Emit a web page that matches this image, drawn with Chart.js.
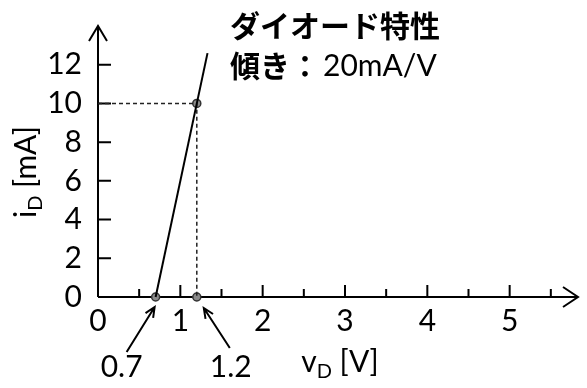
<!DOCTYPE html>
<html>
<head>
<meta charset="utf-8">
<script src="https://cdn.jsdelivr.net/npm/chart.js@4.4.0/dist/chart.umd.min.js"></script>
<style>
  html, body { margin: 0; padding: 0; background: #fff; }
  canvas { display: block; }
</style>
</head>
<body>
<canvas id="chart" width="587" height="388"></canvas>
<script>
// data
const xTicks = [0, 1, 2, 3, 4, 5];
const yTicks = [0, 2, 4, 6, 8, 10, 12];
const xMinor = [0.5, 1.5, 2.5, 3.5, 4.5, 5.5];
const diodeV = [0.7, 1.33];
const diodeI = [0, 12.6];
const guideV = [0, 1.2, 1.2];
const guideI = [10, 10, 0];
const pointV = [0.7, 1.2, 1.2];
const pointI = [0, 0, 10];
const calloutV = [0.7, 1.2];
const titleLine1 = 'ダイオード特性';
const titleLine2a = '傾き：';
const titleLine2b = '20mA/V';
const xMax = 5.83, yMax = 14;

const LATIN = 'Lato, "Noto Sans", sans-serif';
const CJK = '"Noto Sans CJK JP", sans-serif';

const toXY = (xs, ys) => xs.map((v, i) => ({ x: v, y: ys[i] }));

// draws text made of pieces (e.g. a subscript), centred on (cx, cy)
function drawPieces(ctx, pieces, cx, cy) {
  let total = 0;
  pieces.forEach(p => { ctx.font = p.font; p.w = ctx.measureText(p.t).width; total += p.w; });
  let xx = cx - total / 2;
  ctx.textBaseline = 'alphabetic';
  ctx.textAlign = 'left';
  pieces.forEach(p => { ctx.font = p.font; ctx.fillText(p.t, xx, cy + (p.dy || 0)); xx += p.w; });
}

function arrow(ctx, x1, y1, x2, y2) {
  const a = Math.atan2(y2 - y1, x2 - x1), L = 11, s = 0.42;
  ctx.beginPath();
  ctx.moveTo(x1, y1); ctx.lineTo(x2, y2);
  ctx.moveTo(x2 - L * Math.cos(a - s), y2 - L * Math.sin(a - s));
  ctx.lineTo(x2, y2);
  ctx.lineTo(x2 - L * Math.cos(a + s), y2 - L * Math.sin(a + s));
  ctx.stroke();
}

const axesPlugin = {
  id: 'axes',
  beforeDatasetsDraw(chart) {
    const { ctx, scales: { x, y } } = chart;
    const x0 = x.getPixelForValue(0), y0 = y.getPixelForValue(0);
    const xEnd = x.getPixelForValue(xMax), yEnd = y.getPixelForValue(yMax);
    ctx.save();
    ctx.strokeStyle = '#000';
    ctx.lineWidth = 2;
    ctx.beginPath();
    ctx.moveTo(x0, y0); ctx.lineTo(xEnd, y0);
    ctx.moveTo(x0, y0); ctx.lineTo(x0, yEnd);
    ctx.moveTo(xEnd - 15, y0 - 10); ctx.lineTo(xEnd, y0); ctx.lineTo(xEnd - 15, y0 + 10);
    ctx.moveTo(x0 - 9, yEnd + 15); ctx.lineTo(x0, yEnd); ctx.lineTo(x0 + 9, yEnd + 15);
    yTicks.slice(1).forEach(v => { const p = y.getPixelForValue(v); ctx.moveTo(x0, p); ctx.lineTo(x0 + 13, p); });
    xTicks.slice(1).forEach(v => { const p = x.getPixelForValue(v); ctx.moveTo(p, y0); ctx.lineTo(p, y0 - 12); });
    xMinor.forEach(v => { const p = x.getPixelForValue(v); ctx.moveTo(p, y0); ctx.lineTo(p, y0 - 8); });
    ctx.stroke();
    ctx.restore();
  },
  afterDraw(chart) {
    const { ctx, scales: { x, y } } = chart;
    const y0 = y.getPixelForValue(0);
    ctx.save();
    ctx.fillStyle = '#000';
    ctx.strokeStyle = '#000';

    // annotation text
    ctx.textBaseline = 'middle';
    ctx.textAlign = 'left';
    ctx.font = 'bold 30px ' + CJK;
    ctx.fillText(titleLine1, 230, 26);
    ctx.fillText(titleLine2a, 230, 66);
    ctx.font = '30px ' + LATIN;
    ctx.fillText(titleLine2b, 323, 66);

    // axis titles
    drawPieces(ctx, [
      { t: 'v', font: '30px ' + LATIN },
      { t: 'D', font: '20px ' + LATIN, dy: 6 },
      { t: ' [V]', font: '30px ' + LATIN }
    ], 340, 372);
    ctx.save();
    ctx.translate(36, 172);
    ctx.rotate(-Math.PI / 2);
    drawPieces(ctx, [
      { t: 'i', font: '30px ' + LATIN },
      { t: 'D', font: '20px ' + LATIN, dy: 6 },
      { t: ' [mA]', font: '30px ' + LATIN }
    ], 0, 0);
    ctx.restore();

    // callouts for 0.7 and 1.2
    ctx.lineWidth = 2;
    const side = [-1, 1];
    calloutV.forEach((v, i) => {
      const px = x.getPixelForValue(v);
      const s = side[i];
      if (s < 0) arrow(ctx, px - 29, y0 + 55, px - 1, y0 + 10);
      else arrow(ctx, px + 33, y0 + 51, px + 7, y0 + 11);
      ctx.font = '30px ' + LATIN;
      ctx.textAlign = 'center';
      ctx.textBaseline = 'middle';
      ctx.fillText(v.toFixed(1), px + s * 34, y0 + 70);
    });
    ctx.restore();
  }
};

new Chart(document.getElementById('chart'), {
  type: 'scatter',
  data: {
    datasets: [
      {
        data: toXY(diodeV, diodeI), showLine: true,
        borderColor: '#000', borderWidth: 2, pointRadius: 0, clip: false
      },
      {
        data: toXY(guideV, guideI), showLine: true,
        borderColor: '#222', borderWidth: 1.5, borderDash: [4, 3], pointRadius: 0, clip: false
      },
      {
        data: toXY(pointV, pointI), showLine: false,
        pointRadius: 4, pointBackgroundColor: '#8a8a8a', pointBorderColor: '#333', pointBorderWidth: 1.5, clip: false
      }
    ]
  },
  options: {
    responsive: false,
    animation: false,
    layout: { padding: { top: 8, right: 9, left: 0, bottom: 0 } },
    plugins: { legend: { display: false }, tooltip: { enabled: false } },
    scales: {
      x: {
        type: 'linear', min: 0, max: xMax,
        grid: { display: false }, border: { display: false },
        afterBuildTicks: s => { s.ticks = xTicks.map(v => ({ value: v })); },
        afterFit: s => { s.height = 91; },
        ticks: { autoSkip: false, maxRotation: 0, padding: -2, color: '#000', font: { family: LATIN, size: 30 } }
      },
      y: {
        type: 'linear', min: 0, max: yMax,
        grid: { display: false }, border: { display: false },
        afterBuildTicks: s => { s.ticks = yTicks.map(v => ({ value: v })); },
        afterFit: s => { s.width = 98; },
        ticks: { autoSkip: false, padding: 8, color: '#000', font: { family: LATIN, size: 30 } }
      }
    }
  },
  plugins: [axesPlugin]
});
</script>
</body>
</html>
